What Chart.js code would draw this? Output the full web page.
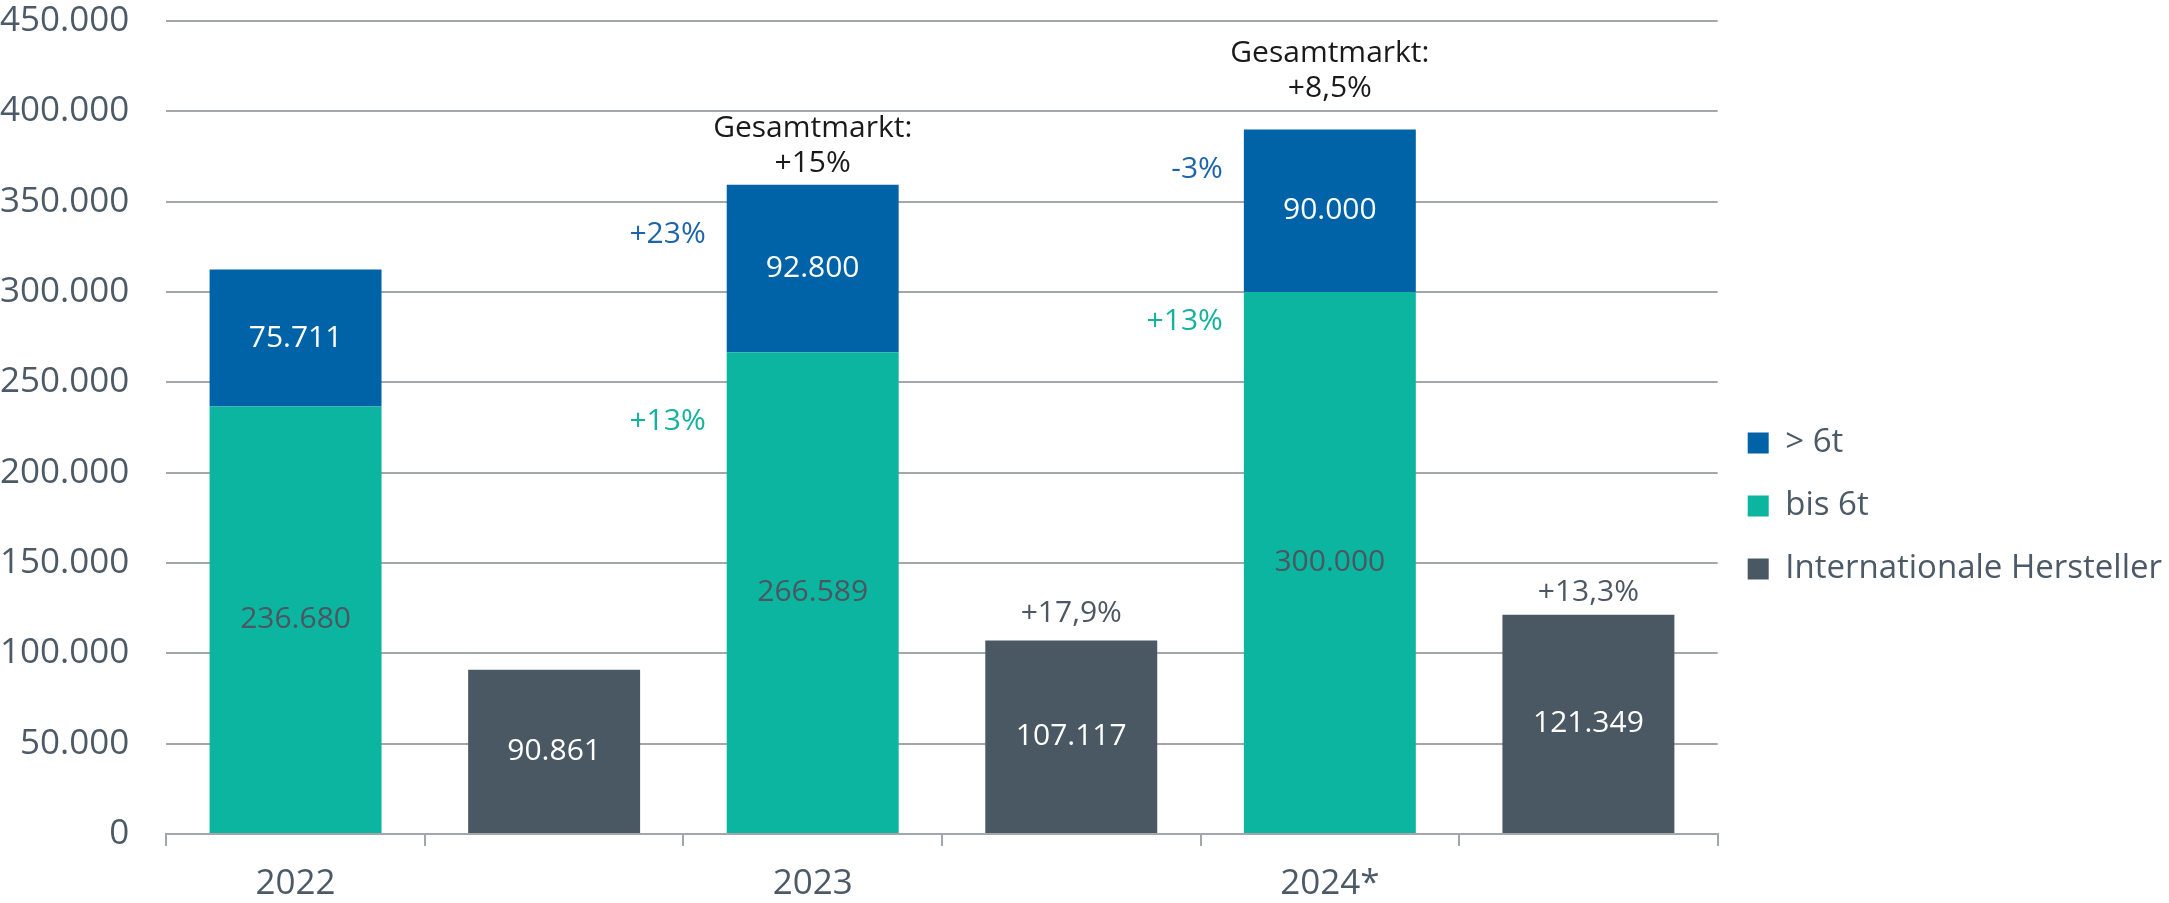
<!DOCTYPE html>
<html>
<head>
<meta charset="utf-8">
<script src="https://cdn.jsdelivr.net/npm/chart.js@4.4.1/dist/chart.umd.min.js"></script>
<style>
  html, body { margin: 0; padding: 0; background: #ffffff; }
  #wrap { width: 2169px; height: 903px; position: relative; }
</style>
</head>
<body>
<div id="wrap"><canvas id="c" width="2169" height="903"></canvas></div>
<script>
// ---- data ----
const categories = ['2022', '', '2023', '', '2024*', ''];
const bis6t = [236680, null, 266589, null, 300000, null];
const ueber6t = [75711, null, 92800, null, 90000, null];
const international = [null, 90861, null, 107117, null, 121349];
const seriesNames = ['bis 6t', '> 6t', 'Internationale Hersteller'];
const legendOrder = ['> 6t', 'bis 6t', 'Internationale Hersteller'];
const yMax = 450000;
const yStep = 50000;

// annotation texts (anchored in data units)
const notes = [
  { dataset: 1, slot: 2, value: 371000, lines: ['Gesamtmarkt:', '+15%'], color: '#1a1a1a', anchor: 'center' },
  { dataset: 1, slot: 4, value: 412500, lines: ['Gesamtmarkt:', '+8,5%'], color: '#1a1a1a', anchor: 'center' },
  { dataset: 1, slot: 2, value: 332000, lines: ['+23%'], color: '#1c65a8', anchor: 'left' },
  { dataset: 0, slot: 2, value: 228500, lines: ['+13%'], color: '#12b39d', anchor: 'left' },
  { dataset: 1, slot: 4, value: 367700, lines: ['-3%'], color: '#1c65a8', anchor: 'left' },
  { dataset: 0, slot: 4, value: 283800, lines: ['+13%'], color: '#12b39d', anchor: 'left' },
  { dataset: 2, slot: 3, value: 122000, lines: ['+17,9%'], color: '#4b5863', anchor: 'center' },
  { dataset: 2, slot: 5, value: 133600, lines: ['+13,3%'], color: '#4b5863', anchor: 'center' }
];

// ---- styles ----
const colors = ['#0bb59f', '#0063a8', '#4a5863'];
const valueLabelColors = ['#4b5661', '#ffffff', '#ffffff'];
const textGray = '#4b5a66';
const gridGray = '#a3a7ab';
const FONT = '"Open Sans", "Noto Sans", sans-serif';

function fmt(v) {
  return String(v).replace(/\B(?=(\d{3})+(?!\d))/g, '.');
}

const labelPlugin = {
  id: 'valueLabels',
  afterDatasetsDraw(chart) {
    const ctx = chart.ctx;
    ctx.save();
    ctx.font = '30px ' + FONT;
    ctx.textBaseline = 'middle';
    ctx.textAlign = 'center';
    chart.data.datasets.forEach((ds, i) => {
      const meta = chart.getDatasetMeta(i);
      meta.data.forEach((el, j) => {
        const v = ds.data[j];
        if (v == null) return;
        ctx.fillStyle = valueLabelColors[i];
        ctx.fillText(fmt(v), el.x, (el.y + el.base) / 2);
      });
    });
    const ys = chart.scales.y;
    notes.forEach(n => {
      const el = chart.getDatasetMeta(n.dataset).data[n.slot];
      const y = ys.getPixelForValue(n.value);
      let x;
      if (n.anchor === 'left') {
        ctx.textAlign = 'right';
        x = el.x - el.width / 2 - 21;
      } else {
        ctx.textAlign = 'center';
        x = el.x;
      }
      ctx.fillStyle = n.color;
      n.lines.forEach((t, k) => {
        ctx.fillText(t, x, y - (n.lines.length - 1 - k) * 35);
      });
    });
    ctx.restore();
  }
};

new Chart(document.getElementById('c'), {
  type: 'bar',
  data: {
    labels: categories,
    datasets: [
      { label: seriesNames[0], data: bis6t, backgroundColor: colors[0], stack: 's' },
      { label: seriesNames[1], data: ueber6t, backgroundColor: colors[1], stack: 's' },
      { label: seriesNames[2], data: international, backgroundColor: colors[2], stack: 's' }
    ]
  },
  options: {
    responsive: false,
    devicePixelRatio: 1,
    animation: false,
    datasets: { bar: { categoryPercentage: 1, barPercentage: 0.665, skipNull: true } },
    layout: { padding: { left: 0, right: -3, top: 0, bottom: -19 } },
    plugins: {
      tooltip: { enabled: false },
      legend: {
        position: 'right',
        align: 'center',
        title: { display: true, text: ' ', color: 'rgba(0,0,0,0)', font: { size: 10, lineHeight: 1 }, padding: { top: 80, bottom: 0 } },
        labels: {
          boxWidth: 21,
          boxHeight: 21,
          padding: 30,
          color: textGray,
          font: { family: FONT, size: 33 },
          sort: (a, b) => legendOrder.indexOf(a.text) - legendOrder.indexOf(b.text)
        }
      }
    },
    scales: {
      x: {
        stacked: true,
        grid: { display: true, drawOnChartArea: false, drawTicks: true, tickLength: 12, offset: true, color: gridGray, lineWidth: 2 },
        border: { display: true, color: gridGray, width: 2 },
        ticks: { color: textGray, font: { family: FONT, size: 35 }, padding: 17, maxRotation: 0, autoSkip: false }
      },
      y: {
        stacked: true,
        min: 0,
        max: yMax,
        grid: { color: gridGray, lineWidth: 2, drawTicks: true, tickLength: 37, tickColor: 'rgba(0,0,0,0)' },
        border: { display: false },
        ticks: { stepSize: yStep, color: textGray, font: { family: FONT, size: 35 }, padding: 0, callback: v => fmt(v) }
      }
    }
  },
  plugins: [labelPlugin]
});
</script>
</body>
</html>
